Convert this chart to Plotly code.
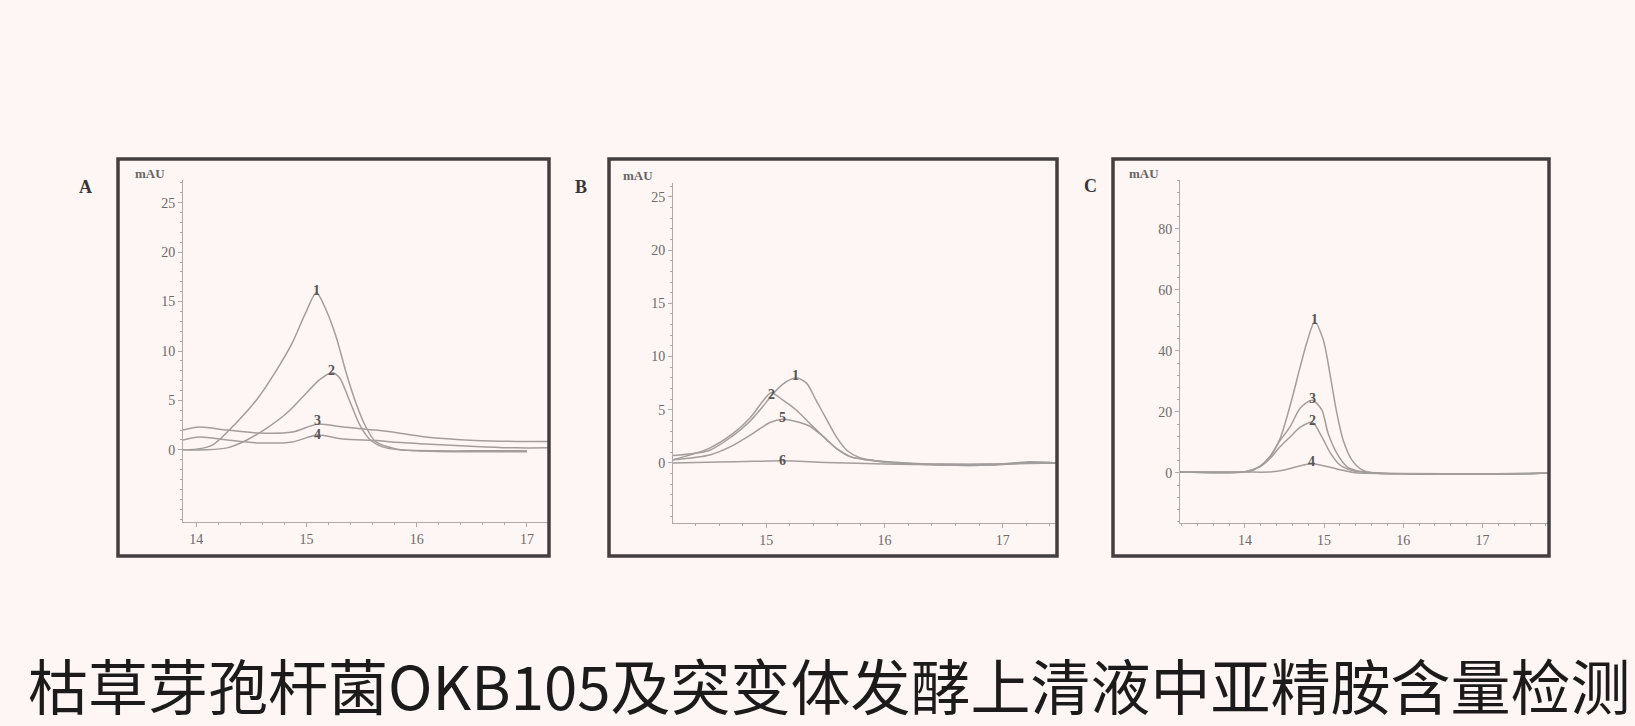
import plotly.graph_objects as go

W, H = 1635, 726
BG = "#fdf6f4"

# ---------------- data ----------------
# Panel A
A_x1 = [13.88, 14.0, 14.15, 14.36, 14.55, 14.73, 14.87, 14.99, 15.09, 15.18, 15.27, 15.36, 15.45, 15.54, 15.63, 15.81, 16.0, 16.4, 16.8, 17.0]
A_y1 = [0.0, 0.05, 0.5, 2.7, 5.1, 8.1, 10.8, 13.8, 15.9, 14.1, 11.4, 7.8, 4.7, 2.3, 0.8, 0.1, -0.1, -0.2, -0.2, -0.2]
A_x2 = [13.88, 14.1, 14.28, 14.46, 14.64, 14.82, 14.97, 15.12, 15.23, 15.3, 15.39, 15.48, 15.57, 15.69, 15.84, 16.2, 16.6, 17.0]
A_y2 = [0.0, 0.0, 0.2, 1.0, 2.2, 3.7, 5.4, 7.1, 7.8, 7.3, 5.0, 2.6, 1.1, 0.3, 0.0, -0.1, -0.1, -0.1]
A_x3 = [13.88, 14.03, 14.28, 14.57, 14.87, 15.1, 15.33, 15.63, 15.78, 16.08, 16.53, 16.9, 17.2]
A_y3 = [2.0, 2.3, 2.0, 1.7, 1.8, 2.6, 2.3, 2.0, 1.8, 1.3, 0.95, 0.85, 0.85]
A_x4 = [13.88, 14.03, 14.28, 14.57, 14.87, 15.1, 15.33, 15.63, 15.78, 16.08, 16.53, 16.9, 17.2]
A_y4 = [1.0, 1.3, 1.0, 0.7, 0.8, 1.5, 1.1, 0.95, 0.8, 0.6, 0.35, 0.2, 0.2]

# Panel B
B_x1 = [14.21, 14.52, 14.71, 14.86, 14.97, 15.05, 15.14, 15.25, 15.34, 15.42, 15.51, 15.59, 15.68, 15.79, 15.93, 16.2, 16.5, 16.9, 17.2, 17.46]
B_y1 = [0.7, 1.2, 2.5, 3.9, 5.3, 6.4, 7.4, 8.0, 7.5, 5.9, 4.1, 2.5, 1.2, 0.5, 0.2, 0.0, -0.2, -0.2, 0.1, 0.0]
B_x2 = [14.21, 14.52, 14.71, 14.86, 14.97, 15.04, 15.14, 15.25, 15.36, 15.48, 15.59, 15.71, 15.85, 16.1, 16.5, 16.9, 17.2, 17.46]
B_y2 = [0.3, 1.4, 2.7, 4.2, 5.8, 6.6, 5.9, 5.0, 3.8, 2.5, 1.4, 0.6, 0.3, 0.0, -0.2, -0.2, 0.0, 0.0]
B_x5 = [14.21, 14.52, 14.71, 14.89, 15.03, 15.14, 15.25, 15.36, 15.48, 15.59, 15.71, 15.85, 16.1, 16.5, 16.9, 17.2, 17.46]
B_y5 = [0.3, 0.75, 1.6, 2.8, 3.8, 4.1, 3.9, 3.5, 2.5, 1.4, 0.6, 0.3, 0.0, -0.1, -0.1, 0.0, 0.0]
B_x6 = [14.21, 14.6, 14.9, 15.14, 15.5, 16.0, 16.5, 17.0, 17.46]
B_y6 = [0.0, 0.1, 0.15, 0.2, 0.05, -0.1, -0.15, -0.1, 0.0]

# Panel C
C_x1 = [13.18, 13.6, 14.0, 14.06, 14.19, 14.32, 14.44, 14.57, 14.70, 14.78, 14.88, 14.99, 15.08, 15.16, 15.24, 15.35, 15.48, 15.62, 16.0, 16.5, 17.0, 17.5, 17.84]
C_y1 = [0.3, 0.3, 0.4, 0.5, 2.2, 5.5, 11.0, 22.0, 35.0, 42.6, 49.5, 43.6, 31.5, 19.7, 10.8, 4.3, 1.0, 0.0, -0.3, -0.4, -0.4, -0.3, 0.0]
C_x2 = [13.18, 14.0, 14.19, 14.32, 14.44, 14.57, 14.70, 14.85, 14.97, 15.08, 15.2, 15.37, 15.6, 16.0, 16.5, 17.0, 17.5, 17.84]
C_y2 = [0.3, 0.4, 2.0, 4.8, 8.5, 11.8, 15.0, 16.6, 11.9, 6.5, 2.6, 0.7, 0.0, -0.3, -0.4, -0.4, -0.3, 0.0]
C_x3 = [13.18, 14.0, 14.19, 14.32, 14.44, 14.57, 14.70, 14.85, 14.97, 15.05, 15.16, 15.29, 15.46, 15.7, 16.0, 16.5, 17.0, 17.5, 17.84]
C_y3 = [0.3, 0.4, 2.2, 5.5, 10.5, 15.1, 21.3, 23.8, 20.7, 13.0, 6.5, 2.0, 0.5, 0.0, -0.3, -0.4, -0.4, -0.3, 0.0]
C_x4 = [13.18, 14.0, 14.3, 14.5, 14.65, 14.84, 15.05, 15.25, 15.4, 16.0, 17.0, 17.84]
C_y4 = [0.3, 0.3, 0.3, 1.0, 2.0, 3.0, 2.0, 0.8, 0.1, -0.2, -0.3, 0.0]

# axis ticks
A_xticks = [14, 15, 16, 17]
A_yticks = [0, 5, 10, 15, 20, 25]
B_xticks = [15, 16, 17]
B_yticks = [0, 5, 10, 15, 20, 25]
C_xticks = [14, 15, 16, 17]
C_yticks = [0, 20, 40, 60, 80]

panel_letters = ["A", "B", "C"]
title_text = "枯草芽孢杆菌OKB105及突变体发酵上清液中亚精胺含量检测"

# ---------------- layout geometry (pixels) ----------------
panels = [
    dict(letter=panel_letters[0], box=(118, 159, 549, 556), ax=(183, 180, 549, 522),
         xr=[13.88, 17.2], yr=[-7.3, 27.3], xt=A_xticks, yt=A_yticks, ymin=1,
         curves=[("1", A_x1, A_y1, 0), ("2", A_x2, A_y2, 0), ("3", A_x3, A_y3, 2), ("4", A_x4, A_y4, -1)],
         letter_pos=(85, 187), mau_pos=(150, 173)),
    dict(letter=panel_letters[1], box=(609, 159, 1057, 556), ax=(673, 183, 1057, 523),
         xr=[14.21, 17.46], yr=[-5.64, 26.3], xt=B_xticks, yt=B_yticks, ymin=1,
         curves=[("1", B_x1, B_y1, 0), ("2", B_x2, B_y2, -4), ("5", B_x5, B_y5, 0), ("6", B_x6, B_y6, -2)],
         letter_pos=(581, 187), mau_pos=(638, 175)),
    dict(letter=panel_letters[2], box=(1113, 159, 1549, 556), ax=(1180, 180, 1549, 523),
         xr=[13.18, 17.84], yr=[-16.4, 96], xt=C_xticks, yt=C_yticks, ymin=4,
         curves=[("1", C_x1, C_y1, 0), ("3", C_x3, C_y3, 0), ("2", C_x2, C_y2, 0), ("4", C_x4, C_y4, 0)],
         letter_pos=(1090, 186), mau_pos=(1144, 173)),
]

fig = go.Figure()
shapes, annotations = [], []
layout_axes = {}
tickfont = dict(family="Liberation Serif, serif", size=14, color="#6e6868")
axcol = "#b0a9a9"

for i, p in enumerate(panels, start=1):
    xa = "x" if i == 1 else f"x{i}"
    ya = "y" if i == 1 else f"y{i}"
    x0, y0, x1, y1 = p["ax"]
    layout_axes["xaxis" if i == 1 else f"xaxis{i}"] = dict(
        domain=[x0 / W, x1 / W], range=p["xr"], anchor=ya,
        showline=True, linecolor=axcol, linewidth=1, showgrid=False, zeroline=False,
        tickmode="array", tickvals=p["xt"], ticks="outside", ticklen=4, tickcolor=axcol,
        minor=dict(tickmode="linear", tick0=14, dtick=0.2, ticks="outside", ticklen=2, tickcolor=axcol),
        tickfont=tickfont, fixedrange=True,
    )
    layout_axes["yaxis" if i == 1 else f"yaxis{i}"] = dict(
        domain=[1 - y1 / H, 1 - y0 / H], range=p["yr"], anchor=xa,
        showline=True, linecolor=axcol, linewidth=1, showgrid=False, zeroline=False,
        tickmode="array", tickvals=p["yt"], ticks="outside", ticklen=4, tickcolor=axcol,
        minor=dict(tickmode="linear", tick0=0, dtick=p["ymin"], ticks="outside", ticklen=2, tickcolor=axcol),
        tickfont=tickfont, fixedrange=True,
    )
    for lab, xs, ys, ysh in p["curves"]:
        fig.add_trace(go.Scatter(
            x=xs, y=ys, xaxis=xa, yaxis=ya, mode="lines",
            line=dict(color="#a39d9d", width=1.5, shape="spline", smoothing=0.8),
            showlegend=False, hoverinfo="skip",
        ))
        k = max(range(len(ys)), key=lambda j: ys[j])
        annotations.append(dict(
            x=xs[k], y=ys[k], xref=xa, yref=ya, text="<b>" + lab + "</b>", showarrow=False,
            yshift=2 + ysh, font=dict(family="Liberation Serif, serif", size=14, color="#5a5454"),
        ))
    bx0, by0, bx1, by1 = p["box"]
    shapes.append(dict(type="rect", xref="paper", yref="paper",
                       x0=bx0 / W, x1=bx1 / W, y0=1 - by1 / H, y1=1 - by0 / H,
                       line=dict(color="#443e3e", width=3.5), fillcolor="rgba(0,0,0,0)", layer="above"))
    lx, ly = p["letter_pos"]
    annotations.append(dict(x=lx / W, y=1 - ly / H, xref="paper", yref="paper", text="<b>" + p["letter"] + "</b>",
                            showarrow=False, xanchor="center", yanchor="middle",
                            font=dict(family="Liberation Serif, serif", size=18, color="#3a3535")))
    mx, my = p["mau_pos"]
    annotations.append(dict(x=mx / W, y=1 - my / H, xref="paper", yref="paper", text="<b>mAU</b>",
                            showarrow=False, xanchor="center", yanchor="middle",
                            font=dict(family="Liberation Serif, serif", size=13, color="#6a6464")))

annotations.append(dict(x=(26 + 1632) / 2 / W, y=1 - 683 / H, xref="paper", yref="paper", text=title_text,
                        showarrow=False, xanchor="center", yanchor="middle",
                        font=dict(family="Noto Sans CJK SC", size=60, color="#1c1a1a")))

fig.update_layout(
    width=W, height=H, margin=dict(l=0, r=0, t=0, b=0),
    paper_bgcolor=BG, plot_bgcolor=BG,
    shapes=shapes, annotations=annotations, **layout_axes,
)

fig.write_html("out.html", config={"displayModeBar": False},
               post_script="document.body.style.margin='0';document.body.style.overflow='hidden';document.body.style.background='" + BG + "';")
